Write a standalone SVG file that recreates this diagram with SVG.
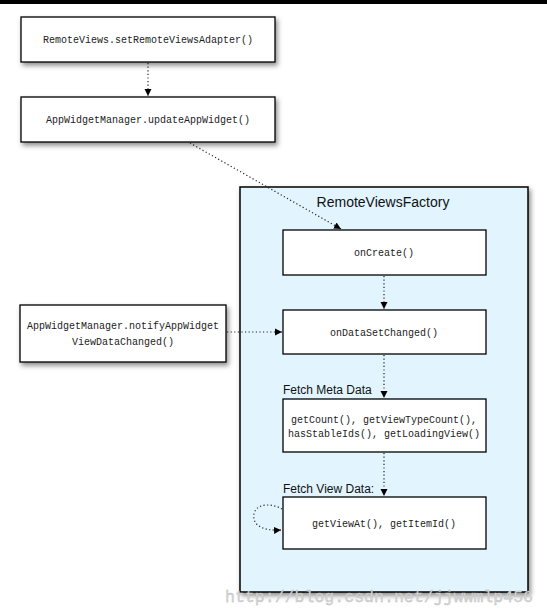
<svg xmlns="http://www.w3.org/2000/svg" width="547" height="616" viewBox="0 0 547 616">
<defs>
<filter id="sh" x="-10%" y="-20%" width="130%" height="160%">
<feDropShadow dx="2" dy="3" stdDeviation="2.5" flood-color="#000" flood-opacity="0.45"/>
</filter>
<marker id="ah" markerWidth="8" markerHeight="8" refX="7" refY="4" orient="auto" markerUnits="userSpaceOnUse">
<path d="M0,0.5 L7,4 L0,7.5 Z" fill="#000"/>
</marker>
</defs>
<style>
.box{fill:#fff;stroke:#000;stroke-width:1.3}
.mono{font-family:"Liberation Mono","DejaVu Sans Mono",monospace;font-size:10px;fill:#222;text-anchor:middle}
.sans{font-family:"Liberation Sans",Arial,sans-serif;fill:#111}
.con{fill:none;stroke:#222;stroke-width:1.2;stroke-dasharray:1.2 2.4;marker-end:url(#ah)}
</style>
<rect x="0" y="0" width="547" height="616" fill="#fff"/>
<rect x="0" y="0" width="547" height="4" fill="#000"/>
<g id="factory">
<rect x="240" y="187" width="288" height="405" fill="#e2f5fe" stroke="#000" stroke-width="1.5" filter="url(#sh)"/>
<text class="sans" x="383" y="207" font-size="14" text-anchor="middle">RemoteViewsFactory</text>
<text class="sans" x="283" y="394" font-size="12">Fetch Meta Data</text>
<text class="sans" x="283" y="493" font-size="12">Fetch View Data:</text>
</g>
<g id="setAdapter">
<rect class="box" x="21" y="17" width="254" height="45" filter="url(#sh)"/>
<text class="mono" x="148" y="43">RemoteViews.setRemoteViewsAdapter()</text>
</g>
<g id="updateAppWidget">
<rect class="box" x="21" y="97" width="254" height="45" filter="url(#sh)"/>
<text class="mono" x="148" y="123">AppWidgetManager.updateAppWidget()</text>
</g>
<g id="notify">
<rect class="box" x="20" y="305" width="206" height="57" filter="url(#sh)"/>
<text class="mono" x="123" y="329">AppWidgetManager.notifyAppWidget</text>
<text class="mono" x="123" y="345">ViewDataChanged()</text>
</g>
<g id="onCreate">
<rect class="box" x="283" y="230" width="203" height="45"/>
<text class="mono" x="384" y="256">onCreate()</text>
</g>
<g id="onDataSetChanged">
<rect class="box" x="283" y="310" width="203" height="44"/>
<text class="mono" x="384" y="336">onDataSetChanged()</text>
</g>
<g id="metaData">
<rect class="box" x="283" y="399" width="203" height="53"/>
<text class="mono" x="384" y="423">getCount(), getViewTypeCount(),</text>
<text class="mono" x="384" y="437">hasStableIds(), getLoadingView()</text>
</g>
<g id="viewData">
<rect class="box" x="283" y="497" width="203" height="52"/>
<text class="mono" x="384" y="527">getViewAt(), getItemId()</text>
</g>
<g id="connectors">
<line class="con" x1="148" y1="63" x2="148" y2="96"/>
<line class="con" x1="190" y1="143" x2="341" y2="229"/>
<line class="con" x1="384" y1="276" x2="384" y2="309"/>
<line class="con" x1="227" y1="332" x2="282" y2="332"/>
<line class="con" x1="384" y1="355" x2="384" y2="398"/>
<line class="con" x1="384" y1="453" x2="384" y2="496"/>
<path class="con" d="M282,509 C272,503 256,503 254,514 C252,526 264,531 281,530"/>
</g>
<text x="225" y="602" font-family="'Liberation Mono','DejaVu Sans Mono',monospace" font-size="16.5" fill="#d6d6d6" stroke="#b8b8b8" stroke-width="0.3" textLength="308">http://blog.csdn.net/jjwwmlp456</text>
</svg>
